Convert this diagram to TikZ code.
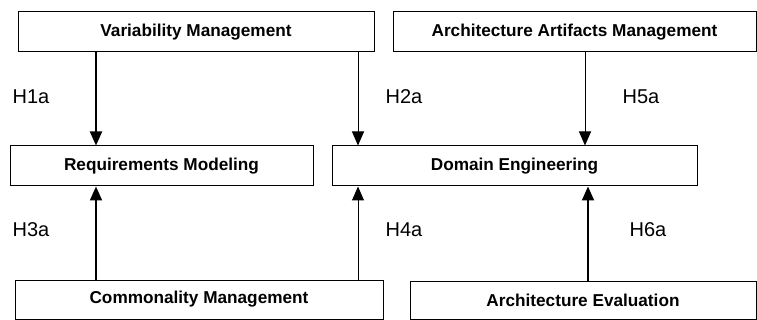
\documentclass[tikz,border=0pt]{standalone}
\usepackage{fontspec}
\setmainfont{Liberation Sans}
\usetikzlibrary{arrows.meta}
\begin{document}
\begin{tikzpicture}[x=1pt,y=-1pt,
  box/.style={draw=black,line width=1pt,fill=white,inner sep=0pt,
    font=\fontsize{17.2}{20}\selectfont\bfseries},
  hlabel/.style={font=\fontsize{20}{24}\selectfont,inner sep=0pt},
  thickarrow/.style={line width=2pt,-{Triangle[length=14pt,width=12pt]}},
  thinarrow/.style={line width=1pt,-{Triangle[length=14pt,width=12pt]}}]
\useasboundingbox (0,0) rectangle (757,320);
\fill[white] (0,0) rectangle (757,320);
\node[box,minimum width=356pt,minimum height=40pt] (vm) at (196,32) {Variability Management};
\node[box,minimum width=363pt,minimum height=40pt] (aam) at (574.5,32) {Architecture Artifacts Management};
\node[box,minimum width=303pt,minimum height=40pt] (rm) at (161.5,166) {Requirements Modeling};
\node[box,minimum width=365pt,minimum height=40pt] (de) at (514.5,166) {Domain Engineering};
\node[box,minimum width=368pt,minimum height=39pt] (cm) at (199,299.5) {Commonality Management};
\node[box,minimum width=346pt,minimum height=38pt] (ae) at (583,300) {Architecture Evaluation};
\draw[thickarrow] (vm.south -| 96,0) -- (rm.north -| 96,0);
\draw[thinarrow] (vm.south -| 358,0) -- (de.north -| 358,0);
\draw[thinarrow] (aam.south -| 585,0) -- (de.north -| 585,0);
\draw[thickarrow] (cm.north -| 96,0) -- (rm.south -| 96,0);
\draw[thinarrow] (cm.north -| 358,0) -- (de.south -| 358,0);
\draw[thickarrow] (ae.north -| 588,0) -- (de.south -| 588,0);
\node[hlabel] (h1) at (31,97) {H1a};
\node[hlabel] (h2) at (404,97) {H2a};
\node[hlabel] (h5) at (641,97) {H5a};
\node[hlabel] (h3) at (31,230) {H3a};
\node[hlabel] (h4) at (404,230) {H4a};
\node[hlabel] (h6) at (648,230) {H6a};
\end{tikzpicture}
\end{document}
